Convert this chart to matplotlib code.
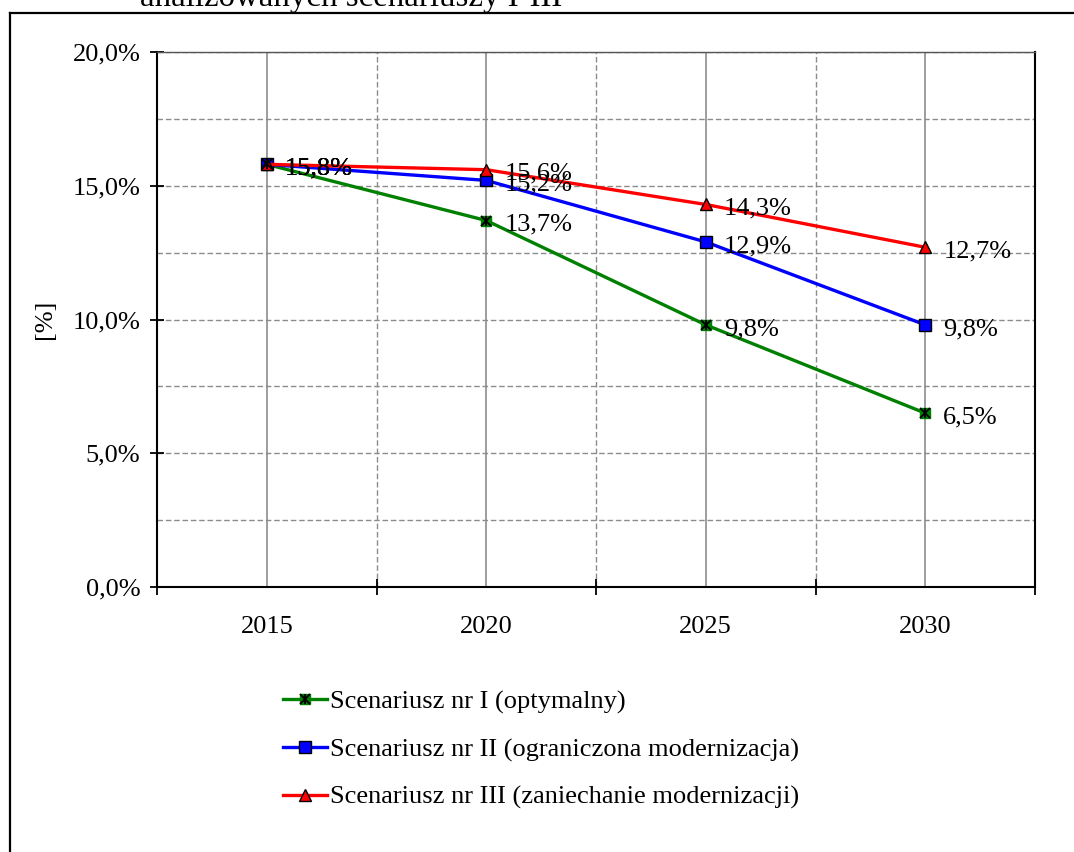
import matplotlib
matplotlib.use("Agg")
import matplotlib.pyplot as plt
from matplotlib.lines import Line2D
from matplotlib.legend_handler import HandlerTuple

plt.rcParams['font.family'] = ['Liberation Serif', 'DejaVu Serif']

years = ['2015', '2020', '2025', '2030']
s1 = [15.8, 13.7, 9.8, 6.5]
s2 = [15.8, 15.2, 12.9, 9.8]
s3 = [15.8, 15.6, 14.3, 12.7]
names = ['Scenariusz nr I (optymalny)',
         'Scenariusz nr II (ograniczona modernizacja)',
         'Scenariusz nr III (zaniechanie modernizacji)']
yticks = [0, 5, 10, 15, 20]
title_text = 'analizowanych scenariuszy I-III'

W, H = 1074, 852
fig = plt.figure(figsize=(W / 100, H / 100), dpi=100)
ax = fig.add_axes([157 / W, 1 - 587 / H, (1035 - 157) / W, (587 - 52) / H])

FS = 19
x = list(range(len(years)))

# grid
for yv in [2.5, 5, 7.5, 10, 12.5, 15, 17.5, 20]:
    ax.axhline(yv, color='#8c8c8c', lw=1.0, ls=(0, (4, 2)), zorder=1)
for i in x:
    ax.axvline(i, color='#8c8c8c', lw=1.2, zorder=1)
for b in [i + 0.5 for i in x[:-1]]:
    ax.axvline(b, color='#8c8c8c', lw=1.0, ls=(0, (4, 2)), zorder=1)

lw = 2.4
ms = 8.5
l1, = ax.plot(x, s1, color='#008000', lw=lw, marker='s', ms=ms - 1,
              mfc='#008000', mec='#008000', zorder=3)
l1b, = ax.plot(x, s1, ls='none', marker='x', ms=ms - 1, mec='black', mew=1.3, zorder=4)
l1c, = ax.plot(x, s1, ls='none', marker='|', ms=ms - 1, mec='black', mew=1.3, zorder=4)
l2, = ax.plot(x, s2, color='#0000ff', lw=lw, marker='s', ms=ms,
              mfc='#0000ff', mec='black', mew=1.0, zorder=3)
l3, = ax.plot(x, s3, color='#ff0000', lw=lw, marker='^', ms=ms + 0.5,
              mfc='#ff0000', mec='black', mew=1.0, zorder=3)

for series in (s1, s2, s3):
    for xi, v in zip(x, series):
        ax.annotate(f'{v:.1f}%'.replace('.', ','), (xi, v), xytext=(13, -3),
                    textcoords='offset points', va='center', ha='left',
                    fontsize=FS, zorder=5)

ax.set_xlim(-0.5, len(years) - 0.5)
ax.set_ylim(0, 20)
ax.set_yticks(yticks)
ax.set_yticklabels([f'{v:.1f}%'.replace('.', ',') for v in yticks], fontsize=FS)
ax.set_xticks([i - 0.5 for i in range(len(years) + 1)])
ax.set_xticklabels([])
ax.set_xticks(x, minor=True)
ax.set_xticklabels(years, minor=True, fontsize=FS)
ax.tick_params(axis='x', which='major', direction='inout', length=12, width=1.3)
ax.tick_params(axis='x', which='minor', length=0, pad=21)
ax.tick_params(axis='y', direction='inout', length=10, width=1.3, pad=7)
for s in ['left', 'bottom', 'right']:
    ax.spines[s].set_linewidth(1.5)
    ax.spines[s].set_color('black')
ax.spines['top'].set_linewidth(1.0)
ax.spines['top'].set_color('#555555')
ax.set_ylabel('[%]', fontsize=FS, labelpad=12)

handles = [(l1, l1b, l1c), l2, l3]
fig.legend(handles, names, loc='upper left', bbox_to_anchor=(283 / W, 1 - 690 / H),
           frameon=False, fontsize=FS, handlelength=1.67, handletextpad=0.12,
           labelspacing=0.9, borderpad=0, borderaxespad=0,
           handler_map={tuple: HandlerTuple(ndivide=1, pad=0)})

# outer frame
fig.add_artist(Line2D([9.5 / W, 9.5 / W], [1 - 12.5 / H, 0], transform=fig.transFigure,
                      color='black', lw=1.6))
fig.add_artist(Line2D([9.5 / W, 1], [1 - 12.5 / H, 1 - 12.5 / H], transform=fig.transFigure,
                      color='black', lw=1.6))
fig.text(140 / W, 1 - 6 / H, title_text, fontsize=23.7, ha='left', va='baseline')

fig.savefig('out.png', dpi=100)
